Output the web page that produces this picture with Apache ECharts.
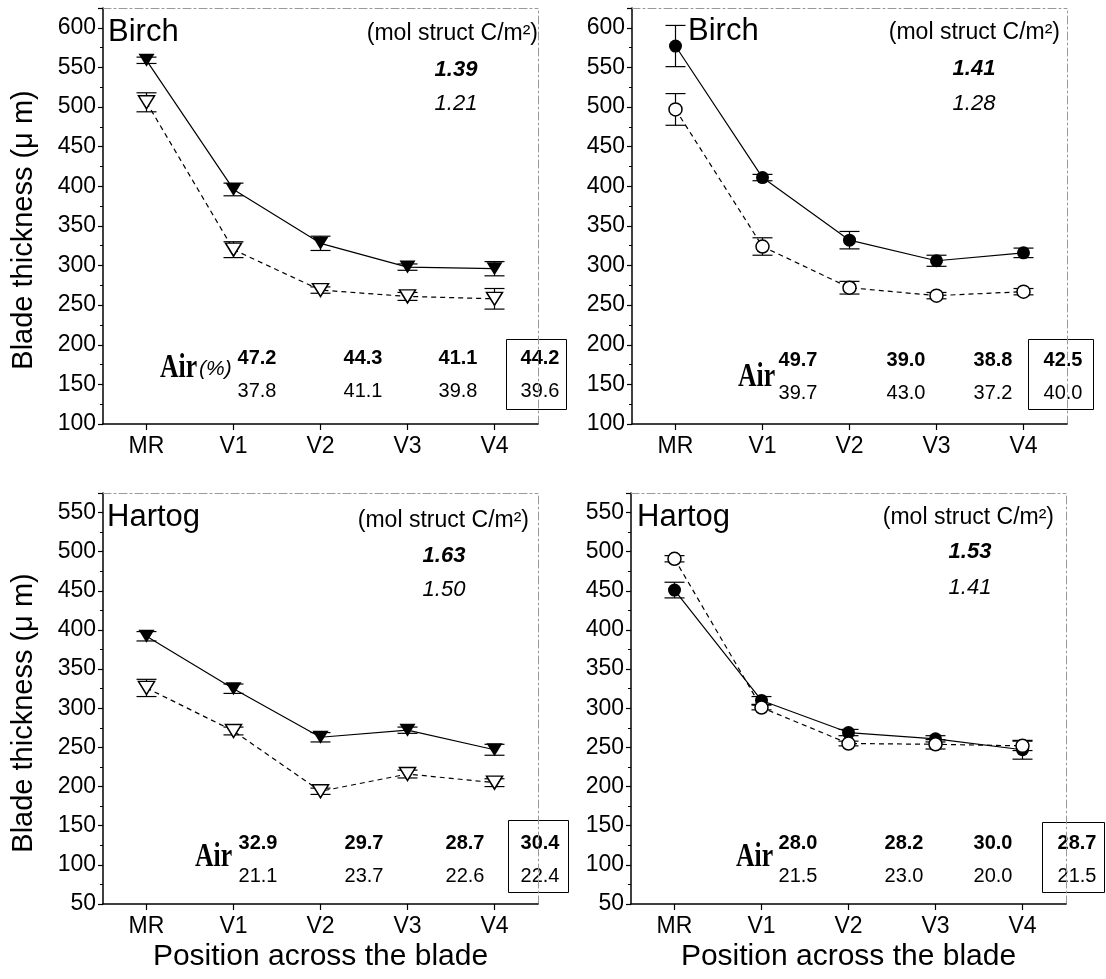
<!DOCTYPE html>
<html lang="en">
<head>
<meta charset="UTF-8">
<title>Blade thickness</title>
<script src="https://cdn.jsdelivr.net/npm/echarts@6/dist/echarts.min.js"></script>
<style>
  html, body { margin: 0; padding: 0; background: #fff; }
  #chart { width: 1106px; height: 979px; }
</style>
</head>
<body>
<div id="chart"></div>
<script>
// positions across the blade
var positions = ['MR', 'V1', 'V2', 'V3', 'V4'];

// Birch, triangles (mean and +/- error)
var birchTriFilled = [559, 396, 328, 298, 296];
var birchTriFilledErr = [4, 8, 9, 4, 9];
var birchTriOpen = [506, 320, 269, 261, 258];
var birchTriOpenErr = [12, 10, 4, 5, 13];

// Birch, circles
var birchCirFilled = [577, 411, 332, 306, 316];
var birchCirFilledErr = [26, 4, 11, 7, 6];
var birchCirOpen = [497, 324, 272, 262, 267];
var birchCirOpenErr = [20, 11, 8, 4, 4];

// Hartog, triangles
var hartogTriFilled = [392, 325, 263, 272, 247];
var hartogTriFilledErr = [6, 6, 6, 4, 7];
var hartogTriOpen = [326, 271, 194, 216, 205];
var hartogTriOpenErr = [11, 5, 4, 5, 5];

// Hartog, circles
var hartogCirFilled = [451, 310, 269, 261, 247];
var hartogCirFilledErr = [10, 5, 4, 4, 12];
var hartogCirOpen = [491, 301, 255, 254, 252];
var hartogCirOpenErr = [4, 3, 3, 6, 6];

// mol struct C/m2 (filled, open)
var molBirchTri = ['1.39', '1.21'];
var molBirchCir = ['1.41', '1.28'];
var molHartogTri = ['1.63', '1.50'];
var molHartogCir = ['1.53', '1.41'];

// air (%) rows: filled (bold) and open
var airBirchTri = [['47.2', '44.3', '41.1', '44.2'], ['37.8', '41.1', '39.8', '39.6']];
var airBirchCir = [['49.7', '39.0', '38.8', '42.5'], ['39.7', '43.0', '37.2', '40.0']];
var airHartogTri = [['32.9', '29.7', '28.7', '30.4'], ['21.1', '23.7', '22.6', '22.4']];
var airHartogCir = [['28.0', '28.2', '30.0', '28.7'], ['21.5', '23.0', '20.0', '21.5']];

var yTicksTop = [100, 625];
var yTicksBottom = [50, 575];

var FONT = 'Liberation Sans, Arial, sans-serif';
var triPath = 'path://M0,0L16,0L8,13Z';

var panels = [
  {
    grid: {left: 103, top: 8, width: 435, height: 416}, range: yTicksTop, kind: 'tri',
    filled: birchTriFilled, filledErr: birchTriFilledErr, open: birchTriOpen, openErr: birchTriOpenErr,
    name: 'Birch', nameX: 108, nameY: 32, molRight: 538, molY: 34, molX: 456, molYs: [70, 104], mol: molBirchTri,
    airX: 160, airY: 368, pct: true, air: airBirchTri, colX: [257, 363, 458, 540], rowY: [358, 391],
    box: [506, 339, 60, 70], yName: true, yNameY: 230, xName: false
  },
  {
    grid: {left: 632, top: 8, width: 435, height: 416}, range: yTicksTop, kind: 'cir',
    filled: birchCirFilled, filledErr: birchCirFilledErr, open: birchCirOpen, openErr: birchCirOpenErr,
    name: 'Birch', nameX: 688, nameY: 31, molRight: 1060, molY: 33, molX: 974, molYs: [69, 104], mol: molBirchCir,
    airX: 738, airY: 377, pct: false, air: airBirchCir, colX: [798, 906, 993, 1063], rowY: [360, 393],
    box: [1028, 339, 65, 70], yName: false, xName: false
  },
  {
    grid: {left: 103, top: 493, width: 435, height: 411}, range: yTicksBottom, kind: 'tri',
    filled: hartogTriFilled, filledErr: hartogTriFilledErr, open: hartogTriOpen, openErr: hartogTriOpenErr,
    name: 'Hartog', nameX: 107, nameY: 517, molRight: 529, molY: 521, molX: 444, molYs: [556, 590], mol: molHartogTri,
    airX: 195, airY: 857, pct: false, air: airHartogTri, colX: [258, 364, 465, 540], rowY: [843, 876],
    box: [508, 820, 60, 72], yName: true, yNameY: 713, xName: true
  },
  {
    grid: {left: 631, top: 493, width: 435, height: 411}, range: yTicksBottom, kind: 'cir',
    filled: hartogCirFilled, filledErr: hartogCirFilledErr, open: hartogCirOpen, openErr: hartogCirOpenErr,
    name: 'Hartog', nameX: 637, nameY: 517, molRight: 1054, molY: 518, molX: 970, molYs: [552, 588], mol: molHartogCir,
    airX: 736, airY: 857, pct: false, air: airHartogCir, colX: [798, 904, 993, 1077], rowY: [843, 876],
    box: [1042, 822, 62, 70], yName: false, xName: true
  }
];

var frameLine = {show: true, lineStyle: {color: '#999', width: 1, type: [8, 3, 2, 3]}};

var grids = [], xAxes = [], yAxes = [], series = [], graphics = [];

function errSeries(p, means, errs) {
  return {
    type: 'custom', xAxisIndex: 2 * p, yAxisIndex: 2 * p, z: 2, silent: true,
    data: means.map(function (m, i) { return [i, m - errs[i], m + errs[i]]; }),
    renderItem: function (params, api) {
      var lo = api.coord([api.value(0), api.value(1)]);
      var hi = api.coord([api.value(0), api.value(2)]);
      var w = 10;
      var st = {stroke: '#000', lineWidth: 1.2};
      return {type: 'group', children: [
        {type: 'line', shape: {x1: lo[0], y1: lo[1], x2: hi[0], y2: hi[1]}, style: st},
        {type: 'line', shape: {x1: lo[0] - w, y1: lo[1], x2: lo[0] + w, y2: lo[1]}, style: st},
        {type: 'line', shape: {x1: hi[0] - w, y1: hi[1], x2: hi[0] + w, y2: hi[1]}, style: st}
      ]};
    }
  };
}

function lineSeries(p, means, isOpen, kind) {
  return {
    type: 'line', xAxisIndex: 2 * p, yAxisIndex: 2 * p, z: 3, silent: true,
    data: means,
    symbol: kind === 'tri' ? triPath : 'circle',
    symbolSize: kind === 'tri' ? [16, 13] : 13,
    itemStyle: {color: isOpen ? '#fff' : '#000', borderColor: '#000', borderWidth: isOpen ? 1.5 : 0},
    lineStyle: {color: '#000', width: 1.2, type: isOpen ? [5, 4] : 'solid'},
    emphasis: {disabled: true}
  };
}

function txt(x, y, text, font, align, vAlign, extra) {
  var el = {
    type: 'text', x: x, y: y, silent: true,
    style: {text: text, font: font, fill: '#000', textAlign: align, textVerticalAlign: vAlign || 'middle',
            align: align, verticalAlign: vAlign || 'middle'}
  };
  if (extra) { for (var k in extra) el[k] = extra[k]; }
  return el;
}

panels.forEach(function (pn, p) {
  grids.push(pn.grid);
  xAxes.push({
    gridIndex: p, type: 'category', data: positions, position: 'bottom',
    axisLine: {show: true, onZero: false, lineStyle: {color: '#000', width: 1.5}},
    axisTick: {show: true, alignWithLabel: true, length: 6, lineStyle: {color: '#000', width: 1.2}},
    axisLabel: {color: '#000', fontSize: 23, fontFamily: FONT, margin: 11},
    splitLine: {show: false},
    name: pn.xName ? 'Position across the blade' : '',
    nameLocation: 'middle', nameGap: 38,
    nameTextStyle: {color: '#000', fontSize: 30, fontFamily: FONT}
  });
  xAxes.push({
    gridIndex: p, type: 'category', data: positions, position: 'top',
    axisLine: frameLine, axisTick: {show: false}, axisLabel: {show: false}, splitLine: {show: false}
  });
  yAxes.push({
    gridIndex: p, type: 'value', min: pn.range[0], max: pn.range[1], interval: 50, position: 'left',
    axisLine: {show: true, lineStyle: {color: '#000', width: 1.5}},
    axisTick: {show: true, length: 5, lineStyle: {color: '#000', width: 1.2}},
    minorTick: {show: true, splitNumber: 2, length: 3, lineStyle: {color: '#000', width: 1}},
    axisLabel: {color: '#000', fontSize: 23, fontFamily: FONT, margin: 7, showMaxLabel: false},
    splitLine: {show: false}
  });
  yAxes.push({
    gridIndex: p, type: 'value', min: pn.range[0], max: pn.range[1], interval: 50, position: 'right',
    axisLine: frameLine, axisTick: {show: false}, axisLabel: {show: false}, splitLine: {show: false}
  });

  series.push(errSeries(p, pn.filled, pn.filledErr));
  series.push(errSeries(p, pn.open, pn.openErr));
  series.push(lineSeries(p, pn.filled, false, pn.kind));
  series.push(lineSeries(p, pn.open, true, pn.kind));

  graphics.push(txt(pn.nameX, pn.nameY, pn.name, '31px ' + FONT, 'left'));
  graphics.push(txt(pn.molRight, pn.molY, '(mol struct C/m\u00b2)', '23px ' + FONT, 'right'));
  graphics.push(txt(pn.molX, pn.molYs[0], pn.mol[0], 'italic bold 22px ' + FONT, 'center'));
  graphics.push(txt(pn.molX, pn.molYs[1], pn.mol[1], 'italic 22px ' + FONT, 'center'));
  graphics.push(txt(pn.airX, pn.airY, 'Air', 'bold 33px "Liberation Serif", "DejaVu Serif", serif', 'left', 'middle',
    {scaleX: 0.78}));
  if (pn.pct) {
    graphics.push(txt(pn.airX + 39, pn.airY + 1, '(%)', 'italic 21px ' + FONT, 'left'));
  }
  pn.colX.forEach(function (cx, i) {
    graphics.push(txt(cx, pn.rowY[0], pn.air[0][i], 'bold 20px ' + FONT, 'center'));
    graphics.push(txt(cx, pn.rowY[1], pn.air[1][i], '20px ' + FONT, 'center'));
  });
  graphics.push({
    type: 'rect', silent: true,
    shape: {x: pn.box[0] + 0.5, y: pn.box[1] + 0.5, width: pn.box[2], height: pn.box[3]},
    style: {fill: 'none', stroke: '#000', lineWidth: 1}
  });
  if (pn.yName) {
    graphics.push(txt(24, pn.yNameY, 'Blade thickness (\u03bc m)', '29px ' + FONT, 'center', 'middle',
      {rotation: Math.PI / 2}));
  }
});

var chart = echarts.init(document.getElementById('chart'));
chart.setOption({
  animation: false,
  backgroundColor: '#fff',
  grid: grids,
  xAxis: xAxes,
  yAxis: yAxes,
  series: series,
  graphic: {elements: graphics}
});
</script>
</body>
</html>
